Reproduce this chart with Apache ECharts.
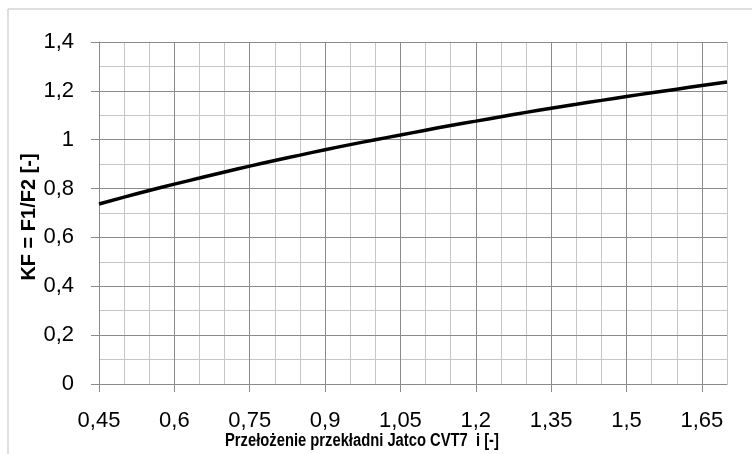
<!DOCTYPE html>
<html>
<head>
<meta charset="utf-8">
<script src="https://cdn.jsdelivr.net/npm/echarts@6/dist/echarts.min.js"></script>
<style>
  html, body { margin: 0; padding: 0; background: #fff; }
  #chart { width: 752px; height: 454px; }
</style>
</head>
<body>
<div id="chart"></div>
<script>
// przełożenie i [-]
const ratios = [0.45, 0.5, 0.55, 0.6, 0.65, 0.7, 0.75, 0.8, 0.85, 0.9, 0.95, 1.0, 1.05,
  1.1, 1.15, 1.2, 1.25, 1.3, 1.35, 1.4, 1.45, 1.5, 1.55, 1.6, 1.65, 1.7];
// KF = F1/F2
const kfValues = [0.737, 0.765, 0.792, 0.818, 0.843, 0.868, 0.892, 0.915, 0.937, 0.959,
  0.980, 1.000, 1.019, 1.039, 1.058, 1.076, 1.094, 1.112, 1.129, 1.145, 1.161, 1.177,
  1.192, 1.207, 1.222, 1.236];

const xTitle = 'Przełożenie przekładni Jatco CVT7  i [-]';
const yTitle = 'KF = F1/F2 [-]';

const chart = echarts.init(document.getElementById('chart'), null, { renderer: 'canvas' });

// przecinek zamiast kropki
const fmt = (v) => String(+v.toFixed(2)).replace('.', ',');

const majorColor = '#8a8a8a';
const minorColor = '#c6c6c6';

const option = {
  animation: false,
  backgroundColor: '#fff',
  grid: { left: 99, top: 42, width: 628, height: 342, containLabel: false },
  graphic: [
    {
      type: 'rect',
      shape: { x: 8, y: 9, width: 800, height: 500 },
      style: { fill: 'none', stroke: '#bfbfbf', lineWidth: 1 },
      silent: true
    },
    {
      // tytuł osi X, zwężony jak Calibri
      type: 'text',
      x: 225,
      y: 432,
      scaleX: 0.82,
      style: {
        text: xTitle,
        font: 'bold 18px "Liberation Sans", Arial, sans-serif',
        fill: '#000'
      }
    },
    {
      // tytuł osi Y
      type: 'text',
      x: 29,
      y: 217,
      rotation: Math.PI / 2,
      style: {
        text: yTitle,
        font: 'bold 20px "Liberation Sans", Arial, sans-serif',
        fill: '#000',
        align: 'center',
        verticalAlign: 'middle'
      }
    }
  ],
  xAxis: [
    {
      type: 'value',
      min: 0.45,
      max: 1.7,
      interval: 0.15,
      axisLine: { show: true, lineStyle: { color: majorColor, width: 1 } },
      axisTick: { show: true, inside: false, length: 8, lineStyle: { color: majorColor } },
      axisLabel: {
        show: true,
        margin: 26,
        showMaxLabel: false,
        formatter: fmt,
        fontFamily: '"Liberation Sans", Arial, sans-serif',
        fontSize: 22,
        color: '#000'
      },
      splitLine: { show: true, showMaxLine: false, lineStyle: { color: majorColor, width: 1 } },
      z: 3
    },
    {
      type: 'value',
      min: 0.45,
      max: 1.7,
      interval: 0.05,
      axisLine: { show: false },
      axisTick: { show: false },
      axisLabel: { show: false },
      splitLine: { show: true, lineStyle: { color: minorColor, width: 1 } },
      z: 1
    }
  ],
  yAxis: [
    {
      type: 'value',
      min: 0,
      max: 1.4,
      interval: 0.2,
      axisLine: { show: true, lineStyle: { color: majorColor, width: 1 } },
      axisTick: { show: true, inside: false, length: 8, lineStyle: { color: majorColor } },
      axisLabel: {
        margin: 25,
        formatter: fmt,
        fontFamily: '"Liberation Sans", Arial, sans-serif',
        fontSize: 22,
        color: '#000'
      },
      splitLine: { show: true, lineStyle: { color: majorColor, width: 1 } },
      z: 3
    },
    {
      type: 'value',
      min: 0,
      max: 1.4,
      interval: 0.1,
      axisLine: { show: false },
      axisTick: { show: false },
      axisLabel: { show: false },
      splitLine: { show: true, lineStyle: { color: minorColor, width: 1 } },
      z: 1
    }
  ],
  series: [
    {
      name: 'KF',
      type: 'line',
      xAxisIndex: 0,
      yAxisIndex: 0,
      data: ratios.map((r, i) => [r, kfValues[i]]),
      smooth: true,
      showSymbol: false,
      lineStyle: { color: '#000', width: 3.5 },
      z: 5
    }
  ]
};

chart.setOption(option);
</script>
</body>
</html>
